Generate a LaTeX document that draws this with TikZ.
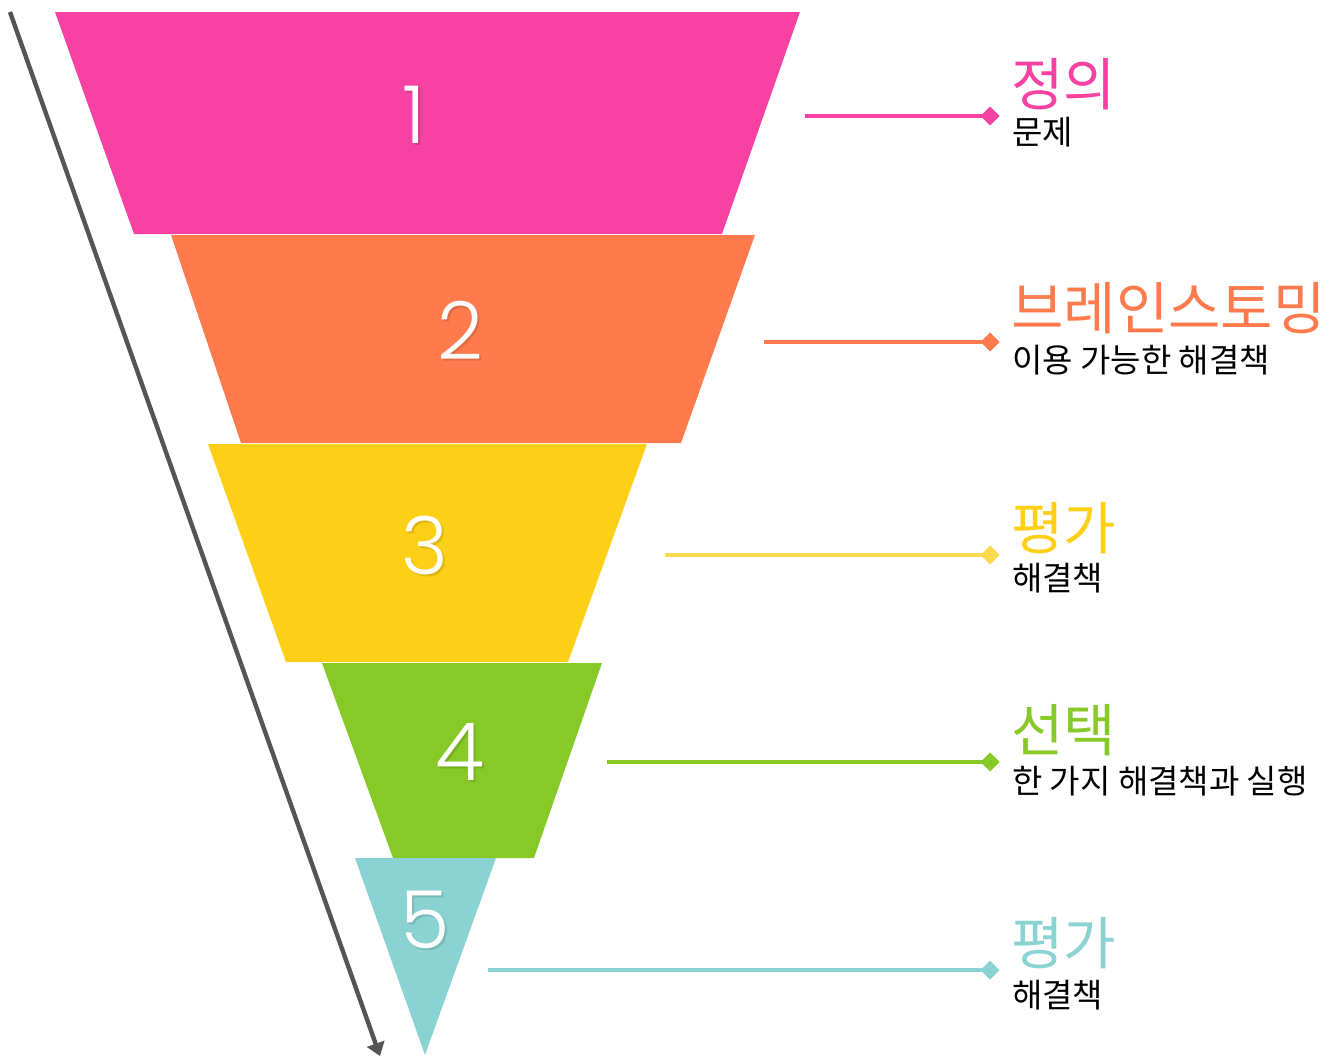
\documentclass[tikz,border=0pt]{standalone}
\usepackage{fontspec}
\setmainfont{Poppins}
\newfontfamily\numfont{Poppins}[UprightFont=* Light]
\newfontfamily\kr{Noto Sans CJK KR}
\usetikzlibrary{arrows.meta}
\definecolor{cA}{HTML}{F741A3}
\definecolor{cB}{HTML}{FF7B4D}
\definecolor{cC}{HTML}{FDD017}
\definecolor{cCl}{HTML}{FDD94F}
\definecolor{cD}{HTML}{87C927}
\definecolor{cE}{HTML}{8AD3D2}
\definecolor{arr}{HTML}{555555}
\begin{document}
\begin{tikzpicture}[x=1pt,y=-1pt,
  num/.style={text=white,font=\numfont\fontsize{80}{80}\selectfont,inner sep=0pt},
  numsh/.style={text=black,opacity=0.12,font=\numfont\fontsize{80}{80}\selectfont,inner sep=0pt},
  ttl/.style={anchor=west,inner sep=0pt,font=\kr\fontsize{57}{57}\selectfont},
  sub/.style={anchor=west,inner sep=0pt,font=\kr\fontsize{33}{33}\selectfont,text=black},
  lnk/.style={line width=4.4pt}]
\useasboundingbox (0,0) rectangle (1338,1055);
% funnel
\fill[cA] (55,12) -- (800,12) -- (722,234) -- (134,234) -- cycle;
\fill[cB] (171,235) -- (755,235) -- (681,443) -- (241,443) -- cycle;
\fill[cC] (208,444) -- (647,444) -- (568,662) -- (286,662) -- cycle;
\fill[cD] (322,663) -- (602,663) -- (534,858) -- (393,858) -- cycle;
\fill[cE] (355,858) -- (496,858) -- (425,1055) -- cycle;
% number shadows
\node[numsh] (h1) at (416,117) {1};
\node[numsh] (h2) at (462,332) {2};
\node[numsh] (h3) at (427,547) {3};
\node[numsh] (h4) at (462,754) {4};
\node[numsh] (h5) at (427,922) {5};
% numbers
\node[num] (n1) at (414,115) {1};
\node[num] (n2) at (460,330) {2};
\node[num] (n3) at (425,545) {3};
\node[num] (n4) at (460,752) {4};
\node[num] (n5) at (425,920) {5};
% arrow
\coordinate (as) at (10,12);
\coordinate (ae) at (380,1056);
\draw[arr,line width=4.4pt,-{Triangle[length=13pt,width=18pt]}] (as) -- (ae);
% connectors
\coordinate (s1) at (805,116);
\coordinate (s2) at (764,342);
\coordinate (s3) at (665,555);
\coordinate (s4) at (607,762);
\coordinate (s5) at (488,970);
\coordinate (d1) at (990,116);
\coordinate (d2) at (990,342);
\coordinate (d3) at (990,555);
\coordinate (d4) at (990,762);
\coordinate (d5) at (990,970);
\foreach \i/\c in {1/cA,2/cB,3/cCl,4/cD,5/cE}{
  \draw[lnk,\c] (s\i) -- (d\i);
  \fill[\c] (d\i) ++(-9.5,0) -- ++(9.5,-9.5) -- ++(9.5,9.5) -- ++(-9.5,9.5) -- cycle;
}
% labels
\node[ttl,text=cA] (t1) at (1011,84) {정의};
\node[sub] (u1) at (1012,132) {문제};
\node[ttl,text=cB] (t2) at (1011,308) {브레인스토밍};
\node[sub] (u2) at (1012,360) {이용 가능한 해결책};
\node[ttl,text=cC] (t3) at (1011,528) {평가};
\node[sub] (u3) at (1012,578) {해결책};
\node[ttl,text=cD] (t4) at (1011,730) {선택};
\node[sub] (u4) at (1012,781) {한 가지 해결책과 실행};
\node[ttl,text=cE] (t5) at (1011,943) {평가};
\node[sub] (u5) at (1012,995) {해결책};
\end{tikzpicture}
\end{document}
